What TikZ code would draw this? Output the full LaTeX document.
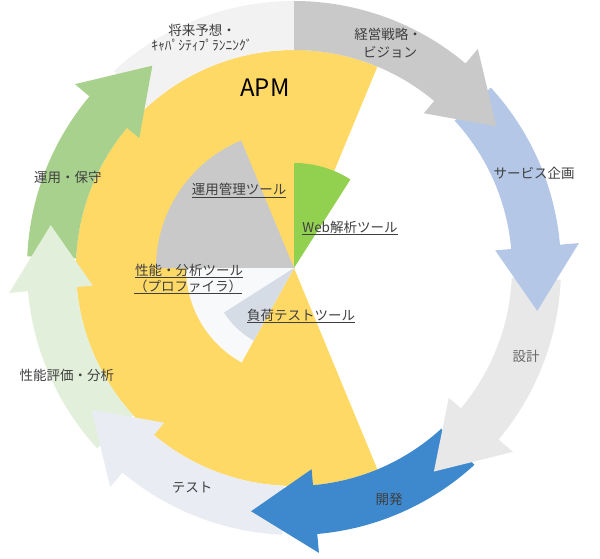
\documentclass[tikz,border=0pt]{standalone}
\usepackage{fontspec}
\setmainfont{Noto Sans CJK JP}
\definecolor{apmyellow}{HTML}{FFD966}
\definecolor{webgreen}{HTML}{92D050}
\definecolor{toolgray}{HTML}{C9C9C9}
\definecolor{proflight}{HTML}{F8F9FA}
\definecolor{loadblue}{HTML}{D6DCE5}
\definecolor{keieigray}{HTML}{C9C9C9}
\definecolor{serviceblue}{HTML}{B4C7E7}
\definecolor{sekkeigray}{HTML}{E8E8E8}
\definecolor{kaihatsublue}{HTML}{3E88CE}
\definecolor{testgray}{HTML}{E9EDF3}
\definecolor{seinogreen}{HTML}{E2EFDA}
\definecolor{unyougreen}{HTML}{A9D18E}
\definecolor{shouraigray}{HTML}{F2F2F2}
\definecolor{txt}{HTML}{3F3F3F}
\newcommand\cyclearrow[4]{\fill[#1] (#2:267pt) arc[start angle=#2,end angle=#3,radius=267pt] -- (#3:286pt) -- (#4:247pt) -- (#3:202pt) -- (#3:218pt) arc[start angle=#3,end angle=#2,radius=218pt] -- cycle;}
\begin{document}
\begin{tikzpicture}[x=1pt,y=1pt,
  lbl/.style={inner sep=0pt,anchor=base,text=txt,font=\fontsize{13.5}{16}\selectfont},
  tool/.style={lbl},
  bigl/.style={inner sep=0pt,anchor=base,text=black,font=\fontsize{24}{28}\selectfont}]
\useasboundingbox (0,0) rectangle (600,558);
\begin{scope}[shift={(294,290)}]
  % APM pie
  \fill[apmyellow] (0,0) -- (67.5:218pt) arc[start angle=67.5,end angle=292.5,radius=218pt] -- cycle;
  \fill[webgreen] (0,0) -- (57.5:105pt) arc[start angle=57.5,end angle=90,radius=105pt] -- cycle;
  \fill[toolgray] (0,0) -- (112.5:138pt) arc[start angle=112.5,end angle=180,radius=138pt] -- cycle;
  \fill[proflight] (0,0) -- (180:108pt) arc[start angle=180,end angle=241,radius=108pt] -- cycle;
  \fill[loadblue] (0,0) -- (212.5:83pt) arc[start angle=212.5,end angle=241,radius=83pt] -- cycle;
  % cycle ring
  \fill[shouraigray] (-227.5:267pt) arc[start angle=-227.5,end angle=-270,radius=267pt] -- (-270:218pt) arc[start angle=-270,end angle=-227.5,radius=218pt] -- cycle;
  \cyclearrow{unyougreen}{-182.5}{-220}{-235}
  \cyclearrow{seinogreen}{-137.5}{-175}{-190}
  \cyclearrow{testgray}{-92.5}{-130}{-145}
  \cyclearrow{kaihatsublue}{-47.5}{-85}{-100}
  \cyclearrow{sekkeigray}{-2.5}{-40}{-55.5}
  \cyclearrow{serviceblue}{42.5}{5}{-10}
  \cyclearrow{keieigray}{90}{50}{35}
\end{scope}
% ring labels
\node[lbl] (keiei1) at (388,518) {経営戦略・};
\node[lbl] (keiei2) at (390,500) {ビジョン};
\node[lbl] (shourai1) at (202,522) {将来予想・};
\node[lbl] (shourai2) at (202,507) {ｷｬﾊﾟｼﾃｨﾌﾟﾗﾝﾆﾝｸﾞ};
\node[lbl] (service) at (534,379) {サービス企画};
\node[lbl,text=black!60] (sekkei) at (526,197) {設計};
\node[lbl] (kaihatsu) at (389,54) {開発};
\node[lbl] (test) at (192,66) {テスト};
\node[lbl] (seino) at (67,178) {性能評価・分析};
\node[lbl] (unyou) at (68,375) {運用・保守};
% APM and tool labels
\node[bigl] (apm) at (265,461) {APM};
\node[tool] (kanri) at (239,363) {\underline{運用管理ツール}};
\node[tool] (web) at (350,326) {\underline{Web解析ツール}};
\node[tool] (prof1) at (189,283) {\underline{性能・分析ツール}};
\node[tool] (prof2) at (188,267) {\underline{（プロファイラ）}};
\node[tool] (load) at (301,238) {\underline{負荷テストツール}};
\end{tikzpicture}
\end{document}
